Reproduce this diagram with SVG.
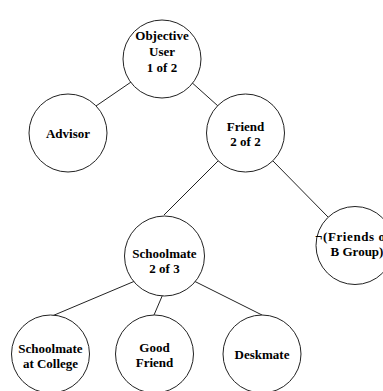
<svg xmlns="http://www.w3.org/2000/svg" width="383" height="391" viewBox="0 0 383 391">
<style>
.n{fill:#fff;stroke:#222;stroke-width:1}
.t{font-family:"Liberation Serif","Times New Roman",serif;font-weight:bold;font-size:13px;fill:#000;text-anchor:middle}
.c{stroke:#222;stroke-width:1;fill:none}
</style>
<rect width="383" height="391" fill="#fff"/>
<g id="connectors">
<line class="c" x1="134" y1="80" x2="96" y2="106"/>
<line class="c" x1="189" y1="80" x2="218" y2="106"/>
<line class="c" x1="218" y1="161" x2="164" y2="215"/>
<line class="c" x1="273" y1="161" x2="328" y2="217"/>
<line class="c" x1="135" y1="281" x2="52" y2="316"/>
<line class="c" x1="163" y1="294" x2="154" y2="315"/>
<line class="c" x1="192" y1="280" x2="262" y2="315"/>
</g>
<g id="objective-user">
<circle class="n" cx="162" cy="59" r="39"/>
<text class="t" x="162" y="40">Objective</text>
<text class="t" x="162" y="56">User</text>
<text class="t" x="162" y="72">1 of 2</text>
</g>
<g id="advisor">
<circle class="n" cx="68" cy="133" r="39"/>
<text class="t" x="68" y="137.5">Advisor</text>
</g>
<g id="friend">
<circle class="n" cx="245.5" cy="133" r="39"/>
<text class="t" x="245.5" y="130.5">Friend</text>
<text class="t" x="245.5" y="145.5">2 of 2</text>
</g>
<g id="schoolmate">
<circle class="n" cx="164.5" cy="256" r="40"/>
<text class="t" x="164.5" y="257.5">Schoolmate</text>
<text class="t" x="164.5" y="272.5">2 of 3</text>
</g>
<g id="friends-b-group">
<circle class="n" cx="355" cy="245.5" r="39"/>
<text class="t" x="315" y="241" style="text-anchor:start;letter-spacing:0.6px">¬(Friends of</text>
<text class="t" x="357" y="256">B Group)</text>
</g>
<g id="schoolmate-college">
<circle class="n" cx="50.5" cy="354" r="39"/>
<text class="t" x="50.5" y="352.5">Schoolmate</text>
<text class="t" x="50.5" y="367.5">at College</text>
</g>
<g id="good-friend">
<circle class="n" cx="154.5" cy="354" r="39"/>
<text class="t" x="154.5" y="351.5">Good</text>
<text class="t" x="154.5" y="366.5">Friend</text>
</g>
<g id="deskmate">
<circle class="n" cx="262" cy="354" r="39"/>
<text class="t" x="262" y="358.5">Deskmate</text>
</g>
</svg>
